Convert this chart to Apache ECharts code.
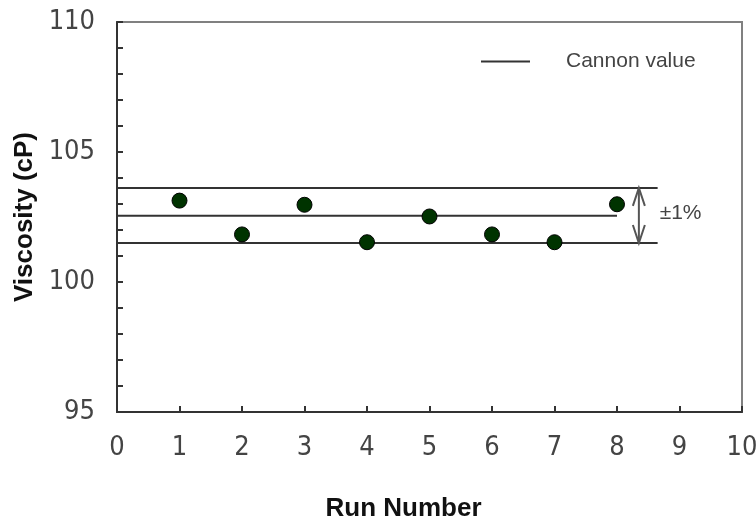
<!DOCTYPE html>
<html><head><meta charset="utf-8">
<script src="https://cdn.jsdelivr.net/npm/echarts@6/dist/echarts.min.js"></script>
<style>html,body{margin:0;padding:0;background:#fff}#c{width:756px;height:520px}</style>
</head><body><div id="c"></div>
<script>
const runs = [1, 2, 3, 4, 5, 6, 7, 8];
const viscosity = [103.13, 101.83, 102.97, 101.53, 102.52, 101.83, 101.53, 102.99];
const cannonValue = 102.55;
const upperLimit = 103.62;
const lowerLimit = 101.5;
const cannonLineEnd = 8;
const limitLineEnd = 8.65;
const arrowX = 8.35;
const xTicks = [0,1,2,3,4,5,6,7,8,9,10];
const yTicks = [95,100,105,110];

const tickFont = '"Liberation Sans Narrow", "Arial Narrow", "DejaVu Sans Condensed", sans-serif';
const chart = echarts.init(document.getElementById('c'));
chart.setOption({
  animation: false,
  backgroundColor: '#fff',
  grid: { left: 117, right: 14, top: 22, bottom: 108, show: true, borderColor: '#808080', borderWidth: 2, containLabel: false, outerBoundsMode: 'none' },
  legend: {
    left: 476, top: 46,
    data: ['Cannon value'],
    icon: 'rect', itemWidth: 49, itemHeight: 2,
    textStyle: { fontFamily: 'Liberation Sans, Arial, sans-serif', fontSize: 21, color: '#444', padding: [0,0,12,31] }
  },
  xAxis: {
    type: 'value', min: xTicks[0], max: xTicks[xTicks.length-1], interval: 1,
    name: 'Run Number', nameLocation: 'middle', nameGap: 84,
    nameTextStyle: { fontFamily: 'Liberation Sans, Arial, sans-serif', fontWeight: 'bold', fontSize: 26, color: '#111', padding: [0, 52, 0, 0] },
    axisLine: { lineStyle: { color: '#333', width: 2 } },
    axisTick: { inside: true, length: 6, lineStyle: { color: '#333', width: 2 } },
    axisLabel: { margin: 22, fontFamily: tickFont, fontSize: 27, color: '#444' },
    splitLine: { show: false }
  },
  yAxis: {
    type: 'value', min: yTicks[0], max: yTicks[yTicks.length-1], interval: 5,
    name: 'Viscosity (cP)', nameLocation: 'middle', nameGap: 72,
    nameTextStyle: { fontFamily: 'Liberation Sans, Arial, sans-serif', fontWeight: 'bold', fontSize: 26, color: '#111' },
    axisLine: { show: true, lineStyle: { color: '#333', width: 2 } },
    axisTick: { show: true, inside: true, length: 6, lineStyle: { color: '#333', width: 2 } },
    minorTick: { show: true, splitNumber: 5, length: 6, lineStyle: { color: '#333', width: 2 } },
    axisLabel: { margin: 22, fontFamily: tickFont, fontSize: 27, color: '#444' },
    splitLine: { show: false }
  },
  series: [
    {
      name: 'Cannon value', type: 'line', symbol: 'none', z: 2,
      data: [[0, cannonValue], [cannonLineEnd, cannonValue]],
      lineStyle: { color: '#333', width: 2 }, itemStyle: { color: '#333' }
    },
    {
      name: 'upper', type: 'line', symbol: 'none', z: 2,
      data: [[0, upperLimit], [limitLineEnd, upperLimit]],
      lineStyle: { color: '#333', width: 2 }
    },
    {
      name: 'lower', type: 'line', symbol: 'none', z: 2,
      data: [[0, lowerLimit], [limitLineEnd, lowerLimit]],
      lineStyle: { color: '#333', width: 2 }
    },
    {
      name: 'range', type: 'custom', z: 3,
      data: [[arrowX, upperLimit, lowerLimit, cannonValue]],
      renderItem: function (params, api) {
        const t = api.coord([api.value(0), api.value(1)]);
        const b = api.coord([api.value(0), api.value(2)]);
        const m = api.coord([limitLineEnd, api.value(3)]);
        const st = { stroke: '#555', lineWidth: 2, fill: null };
        return { type: 'group', children: [
          { type: 'line', shape: { x1: t[0], y1: t[1], x2: b[0], y2: b[1] }, style: st },
          { type: 'polyline', shape: { points: [[t[0]-6, t[1]+18], [t[0], t[1]], [t[0]+6, t[1]+18]] }, style: st },
          { type: 'polyline', shape: { points: [[b[0]-6, b[1]-18], [b[0], b[1]], [b[0]+6, b[1]-18]] }, style: st },
          { type: 'text', x: m[0] + 2, y: m[1] - 2, style: { text: '±1%', fontFamily: 'Liberation Sans, Arial, sans-serif', fontSize: 21, fill: '#444', align: 'left', verticalAlign: 'middle' } }
        ]};
      }
    },
    {
      name: 'Viscosity', type: 'scatter', z: 4,
      data: runs.map((r, i) => [r, viscosity[i]]),
      symbol: 'circle', symbolSize: 15,
      itemStyle: { color: '#003300', borderColor: '#000', borderWidth: 1, opacity: 1 }
    }
  ]
});
</script></body></html>
